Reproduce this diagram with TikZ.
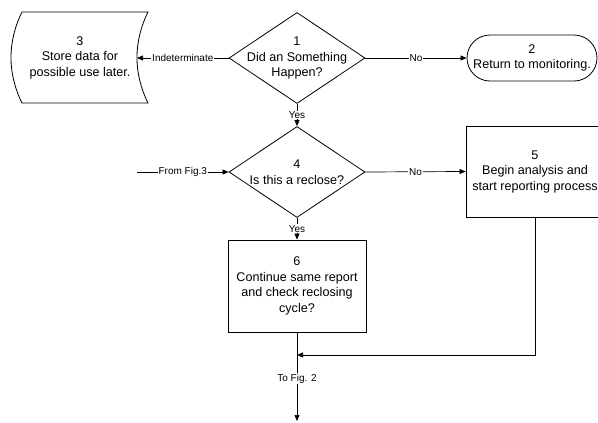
\documentclass[tikz,border=0pt]{standalone}
\usepackage{fontspec}
\setmainfont{Liberation Sans}
\usetikzlibrary{shapes.geometric,arrows.meta}
\begin{document}
\begin{tikzpicture}[x=1pt,y=-1pt,
  txt/.style={font=\fontsize{12.6}{15.5}\selectfont, align=center},
  lbl/.style={font=\fontsize{10}{12}\selectfont, fill=white, inner sep=1pt},
  outline/.style={draw, line width=0.8pt},
  decision/.style={outline, diamond, minimum width=136pt, minimum height=91pt, inner sep=0pt},
  procbox/.style={outline, rectangle, txt, inner sep=0pt, minimum width=138pt, minimum height=92pt},
  conn/.style={draw, line width=0.7pt, -{Triangle[length=6pt,width=5pt]}},
  plain/.style={draw, line width=0.7pt}]
\useasboundingbox (0,0) rectangle (598,423);
\clip (0,0) rectangle (598,423);

% decisions
\node[decision, label={[txt]center:1\\Did an Something\\Happen?}] (d1) at (297,58) {};
\node[decision, label={[txt]center:4\\Is this a reclose?}] (d4) at (297,172) {};

% terminal
\node[outline, rectangle, rounded corners=23pt, txt, inner sep=0pt,
      minimum width=130pt, minimum height=46pt] (t2) at (532,58) {2\\Return to monitoring.};

% stored data
\draw[outline] (22,12) -- (148,12)
  .. controls (133.3,42) and (133.3,73) .. (148,103)
  -- (22,103)
  .. controls (7.3,73) and (7.3,42) .. (22,12) -- cycle;
\node[txt] (s3) at (80,57.5) {3\\Store data for\\possible use later.};
\coordinate (s3in) at (137,58);

% processes
\node[procbox, minimum height=91pt] (b5) at (535,171.5) {5\\Begin analysis and\\start reporting process};
\node[procbox] (b6) at (297,286) {6\\Continue same report\\and check reclosing\\cycle?};

% free ends
\coordinate (from3) at (137,172);
\coordinate (merge) at (297,355);
\coordinate (to2) at (297,421);

% connectors
\draw[conn] (d1.west) -- node[lbl] {Indeterminate} (s3in);
\draw[conn] (d1.east) -- node[lbl] {No} (t2.west);
\draw[conn] (d1.south) -- node[lbl] {Yes} (d4.north);
\draw[conn] (from3) -- node[lbl] {From Fig.3} (d4.west);
\draw[conn] (d4.east) -- node[lbl] {No} (b5.west);
\draw[conn] (d4.south) -- node[lbl] {Yes} (b6.north);
\draw[conn] (b5.south) |- (merge);
\draw[conn] (b6.south) -- node[lbl, pos=0.52] {To Fig. 2} (to2);
\end{tikzpicture}
\end{document}
